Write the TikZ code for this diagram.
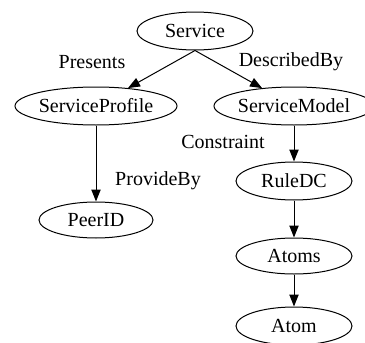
\documentclass[tikz,border=0pt]{standalone}
\usepackage{fontspec}
\setmainfont{Liberation Serif}
\usetikzlibrary{arrows.meta,shapes.geometric}

\tikzset{
	concept/.style={draw, ellipse, line width=0.75pt, inner sep=0pt, minimum height=28.5pt, minimum width=87pt, font=\fontsize{15}{18}\selectfont},
	relation/.style={-{Triangle[length=9pt,width=7pt]}, line width=0.75pt},
	rolename/.style={font=\fontsize{15}{18}\selectfont}
}

\begin{document}
\begin{tikzpicture}[x=0.75pt, y=-0.75pt]
		%%%%% START %%%%%
		\useasboundingbox (0, 0) rectangle (365, 343);
		
		\node[concept] (service) at (195, 31) {Service};
		
		\node[concept, minimum width=121.5pt] (profile) at (96, 106) {ServiceProfile};
		\node[concept, minimum width=120pt] (model) at (294, 106) {ServiceModel};
		
		\node[concept, minimum width=85.5pt, minimum height=27pt] (peer) at (96, 220) {PeerID};
		\node[concept] (rule) at (294, 181) {RuleDC};
		\node[concept, minimum height=27pt] (atoms) at (294, 256) {Atoms};
		\node[concept] (atom) at (294, 326) {Atom};
		
		\draw[relation] (service.south) -- (profile);
		\draw[relation] (service.south) -- (model);
		\draw[relation] (profile) -- (peer);
		\draw[relation] (model) -- (rule);
		\draw[relation] (rule) -- (atoms);
		\draw[relation] (atoms) -- (atom);
		
		\node[rolename] (presents) at (92, 62) {Presents};
		\node[rolename] (describedby) at (291, 62) {DescribedBy};
		\node[rolename] (constraint) at (223, 142) {Constraint};
		\node[rolename] (provideby) at (158, 181) {ProvideBy};
		
		%%%%% END %%%%%
	\end{tikzpicture}
\end{document}
